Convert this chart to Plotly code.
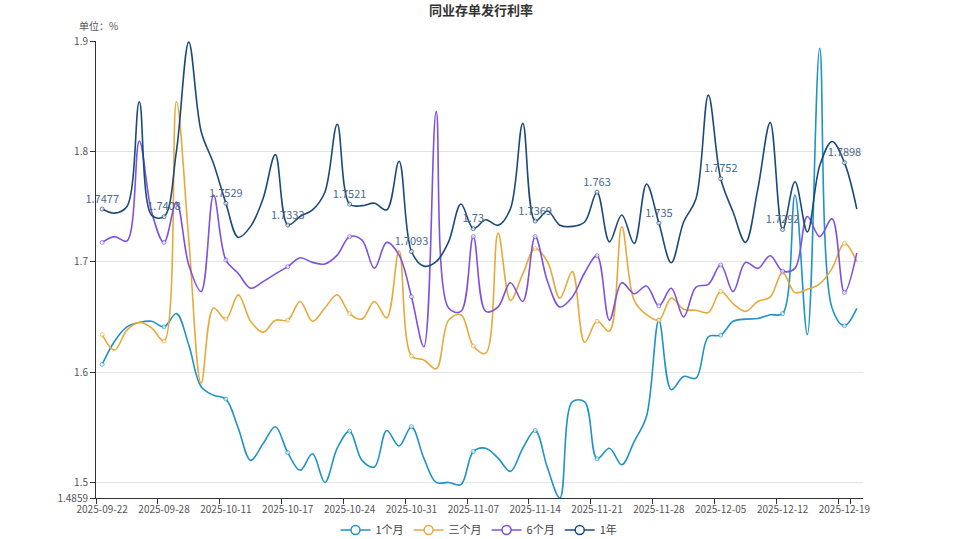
import plotly.graph_objects as go

dates = ["2025-09-22", "2025-09-23", "2025-09-24", "2025-09-25", "2025-09-26", "2025-09-28",
         "2025-09-29", "2025-09-30", "2025-10-09", "2025-10-10", "2025-10-11",
         "2025-10-13", "2025-10-14", "2025-10-15", "2025-10-16", "2025-10-17",
         "2025-10-20", "2025-10-21", "2025-10-22", "2025-10-23", "2025-10-24",
         "2025-10-27", "2025-10-28", "2025-10-29", "2025-10-30", "2025-10-31",
         "2025-11-03", "2025-11-04", "2025-11-05", "2025-11-06", "2025-11-07",
         "2025-11-10", "2025-11-11", "2025-11-12", "2025-11-13", "2025-11-14",
         "2025-11-17", "2025-11-18", "2025-11-19", "2025-11-20", "2025-11-21",
         "2025-11-24", "2025-11-25", "2025-11-26", "2025-11-27", "2025-11-28",
         "2025-12-01", "2025-12-02", "2025-12-03", "2025-12-04", "2025-12-05",
         "2025-12-08", "2025-12-09", "2025-12-10", "2025-12-11", "2025-12-12",
         "2025-12-15", "2025-12-16", "2025-12-17", "2025-12-18", "2025-12-19",
         "2025-12-22"]

m1 = [1.607, 1.628, 1.641, 1.645, 1.646, 1.641, 1.653, 1.6245, 1.5867, 1.579,
      1.5755, 1.549, 1.520, 1.535, 1.5505, 1.527, 1.511, 1.526, 1.500, 1.531,
      1.5465, 1.520, 1.514, 1.547, 1.533, 1.5505, 1.522, 1.500, 1.500, 1.498,
      1.528, 1.531, 1.522, 1.510, 1.531, 1.547, 1.513, 1.4859, 1.573, 1.573,
      1.5214, 1.531, 1.516, 1.537, 1.560, 1.647, 1.584, 1.596, 1.5945, 1.632,
      1.6335, 1.646, 1.648, 1.6486, 1.652, 1.653, 1.7604, 1.634, 1.8934, 1.658,
      1.642, 1.6577]

m3 = [1.634, 1.620, 1.638, 1.645, 1.640, 1.628, 1.845, 1.720, 1.590, 1.658,
      1.648, 1.670, 1.646, 1.636, 1.647, 1.647, 1.664, 1.646, 1.658, 1.670,
      1.653, 1.648, 1.664, 1.649, 1.710, 1.6145, 1.611, 1.603, 1.647, 1.652,
      1.6236, 1.617, 1.726, 1.665, 1.689, 1.712, 1.700, 1.667, 1.691, 1.627,
      1.646, 1.637, 1.7317, 1.665, 1.652, 1.647, 1.667, 1.657, 1.656, 1.654,
      1.673, 1.662, 1.655, 1.664, 1.668, 1.6903, 1.672, 1.675, 1.680, 1.694,
      1.7166, 1.700]

m6 = [1.7175, 1.7227, 1.7187, 1.8094, 1.745, 1.7175, 1.754, 1.697, 1.673, 1.7604,
      1.7015, 1.6894, 1.676, 1.682, 1.689, 1.6955, 1.7036, 1.6994, 1.698, 1.706,
      1.7227, 1.7196, 1.694, 1.7175, 1.706, 1.6683, 1.623, 1.836, 1.658, 1.655,
      1.7227, 1.655, 1.659, 1.681, 1.664, 1.7227, 1.682, 1.659, 1.668, 1.690,
      1.7054, 1.647, 1.681, 1.671, 1.678, 1.660, 1.676, 1.650, 1.677, 1.6795,
      1.697, 1.673, 1.6994, 1.694, 1.7054, 1.6915, 1.694, 1.741, 1.7227, 1.739,
      1.6722, 1.708]

y1 = [1.7477, 1.744, 1.750, 1.845, 1.742, 1.7408, 1.800, 1.899, 1.818, 1.789,
      1.7529, 1.722, 1.732, 1.757, 1.797, 1.7333, 1.741, 1.747, 1.763, 1.8245,
      1.7521, 1.7508, 1.753, 1.747, 1.791, 1.7093, 1.696, 1.700, 1.718, 1.7523,
      1.73, 1.738, 1.733, 1.748, 1.8254, 1.7369, 1.746, 1.733, 1.732, 1.736,
      1.763, 1.718, 1.7423, 1.7166, 1.7704, 1.735, 1.699, 1.736, 1.757, 1.851,
      1.7752, 1.745, 1.7175, 1.766, 1.826, 1.7292, 1.7725, 1.727, 1.787, 1.809,
      1.7898, 1.7477]

names = ["1个月", "三个月", "6个月", "1年"]
colors = ["#1f93c6", "#e8a93c", "#7d52e0", "#1b4a7a"]
y_ticks = [1.4859, 1.5, 1.6, 1.7, 1.8, 1.9]
y_ticktext = ["1.4859", "1.5", "1.6", "1.7", "1.8", "1.9"]

step = 5
msize = [4 if i % step == 0 else 0 for i in range(len(dates))]

fig = go.Figure()
for name, vals, col in zip(names, [m1, m3, m6, y1], colors):
    is_label = name == "1年"
    txt = [(("%g" % v) if i % step == 0 else "") for i, v in enumerate(vals)] if is_label else None
    fig.add_trace(go.Scatter(
        x=dates, y=vals, name=name, legendgroup=name, showlegend=False,
        mode="lines+markers+text" if is_label else "lines+markers",
        line=dict(color=col, width=1.6, shape="spline", smoothing=1.0),
        marker=dict(size=msize, color="white", line=dict(color=col, width=1)),
        text=txt, textposition="top center",
        textfont=dict(color="#4a6a8e", size=11),
        cliponaxis=False,
    ))
# legend entries (line with hollow circle, as in the reference legend)
for name, col in zip(names, colors):
    fig.add_trace(go.Scatter(
        x=[None], y=[None], name=name, legendgroup=name, showlegend=True,
        mode="lines+markers",
        line=dict(color=col, width=1.6),
        marker=dict(size=9, color="white", line=dict(color=col, width=1.5)),
    ))

pw = 958 - 96 - 95
ph = 539 - 41 - 41

fig.update_layout(
    width=958, height=539,
    paper_bgcolor="white", plot_bgcolor="white",
    margin=dict(l=96, r=95, t=41, b=41, autoexpand=False),
    font=dict(family="Noto Sans CJK SC, sans-serif", size=10, color="#555"),
    title=dict(text="<b>同业存单发行利率</b>", x=0.502, xref="container", xanchor="center",
               y=1 - 10 / 539, yref="container", yanchor="middle",
               font=dict(size=13, color="#333")),
    showlegend=True,
    legend=dict(orientation="h", x=0.5, xanchor="center", xref="container",
                y=1 - 530 / 539, yref="container", yanchor="middle",
                font=dict(size=11, color="#444"), itemwidth=30,
                tracegroupgap=0),
    annotations=[dict(text="单位：%", x=(77 - 96) / pw, y=(539 - 41 - 25) / ph,
                      xref="paper", yref="paper",
                      xanchor="left", yanchor="middle", showarrow=False,
                      font=dict(size=10, color="#555"))],
)

fig.update_xaxes(
    type="category", tickmode="array", tickvals=dates[::step], ticktext=dates[::step],
    tickson="boundaries", ticks="outside", ticklen=5, tickcolor="#333", tickangle=0,
    ticklabelstandoff=2,
    showline=True, linecolor="#333", linewidth=1, showgrid=False, automargin=False,
    tickfont=dict(size=10, color="#555"), range=[-0.5, len(dates) - 0.5],
)
fig.update_yaxes(
    range=[1.4859, 1.9], tickmode="array", tickvals=y_ticks, ticktext=y_ticktext,
    ticks="outside", ticklen=5, tickcolor="#333", automargin=False,
    showline=True, linecolor="#333", linewidth=1,
    showgrid=True, gridcolor="#e3e3e3", zeroline=False,
    tickfont=dict(size=10, color="#555"),
)

fig.write_html("out.html")
